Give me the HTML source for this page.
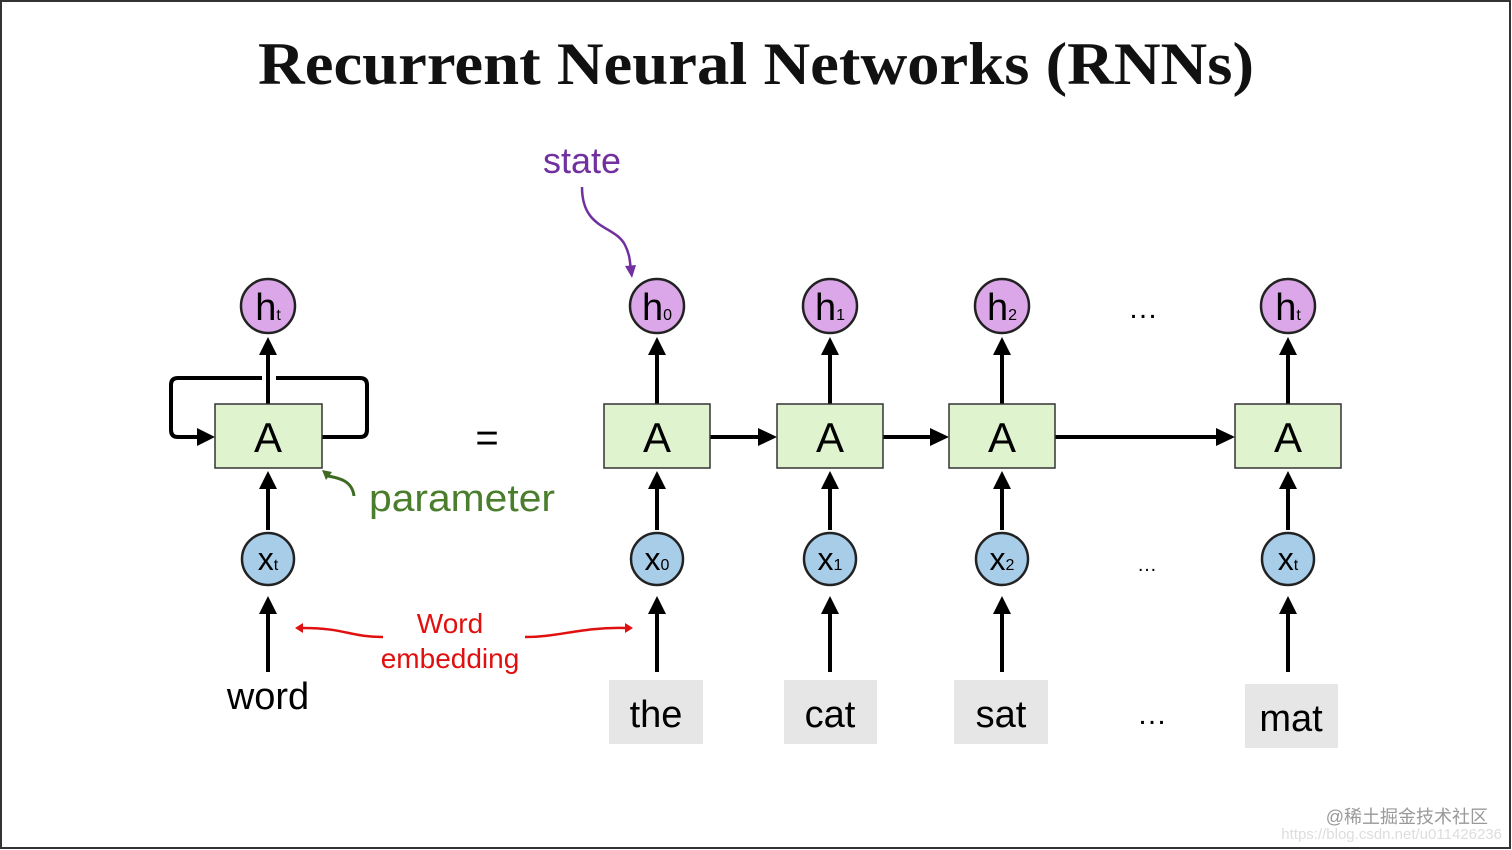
<!DOCTYPE html>
<html><head><meta charset="utf-8"><style>
html,body{margin:0;padding:0;background:#fff}
svg{display:block}
</style></head><body>
<svg width="1512" height="850" viewBox="0 0 1512 850" xmlns="http://www.w3.org/2000/svg" font-family="Liberation Sans, sans-serif">
<rect x="1" y="1" width="1509" height="847" fill="#fff" stroke="#333" stroke-width="2"/>
<text x="258" y="84" textLength="996" lengthAdjust="spacingAndGlyphs" font-family="Liberation Serif, serif" font-weight="bold" font-size="60" fill="#111">Recurrent Neural Networks (RNNs)</text>

<text x="582" y="173" text-anchor="middle" font-size="36" fill="#7030a0">state</text>
<path d="M582,187 C582,230 615,225 625,245 C630,255 630,262 631,272" fill="none" stroke="#7030a0" stroke-width="2.5"/>
<path d="M625,266 L632,278 L636,265 z" fill="#7030a0"/>

<g stroke="#000" stroke-width="4" fill="none">
<line x1="268" y1="404" x2="268" y2="354"/>
<line x1="268" y1="530" x2="268" y2="488"/>
<line x1="268" y1="672" x2="268" y2="614"/>
<path d="M262,378 H178 Q171,378 171,385 V430 Q171,437 178,437 H198"/>
<path d="M322,437 H360 Q367,437 367,430 V385 Q367,378 360,378 H276"/>
</g>
<path d="M197,428 L215,437 L197,446 z"/>
<path d="M259,355 L268,337 L277,355 z"/>
<path d="M259,489 L268,471 L277,489 z"/>
<path d="M259,614 L268,596 L277,614 z"/>
<rect x="215" y="404" width="107" height="64" fill="#dff3cf" stroke="#333" stroke-width="1.5"/>
<text x="268" y="452" text-anchor="middle" font-size="42">A</text>
<circle cx="268" cy="306" r="27" fill="#dba7e8" stroke="#222" stroke-width="2.5"/>
<text x="268" y="320" text-anchor="middle" font-size="38">h<tspan font-size="16">t</tspan></text>
<circle cx="268" cy="559" r="26" fill="#a8cde9" stroke="#222" stroke-width="2.5"/>
<text x="268" y="570" text-anchor="middle" font-size="32">x<tspan font-size="16">t</tspan></text>
<text x="268" y="709" text-anchor="middle" font-size="38">word</text>

<path d="M354,496 C352,480 338,478 328,476" fill="none" stroke="#3d6b22" stroke-width="3"/>
<path d="M322,470 L332,472 L326,480 z" fill="#3d6b22"/>
<text x="369" y="511" font-size="38" textLength="186" lengthAdjust="spacingAndGlyphs" fill="#4a7d2c">parameter</text>
<text x="487" y="451" text-anchor="middle" font-size="40">=</text>

<text x="450" y="633" text-anchor="middle" font-size="28" fill="#e01010">Word</text>
<text x="450" y="668" text-anchor="middle" font-size="28" fill="#e01010">embedding</text>
<path d="M383,637 C350,637 345,628 303,628" fill="none" stroke="#e01010" stroke-width="2.5"/>
<path d="M303,623 L295,628 L303,633 z" fill="#e01010"/>
<path d="M525,637 C560,637 580,627 625,628" fill="none" stroke="#e01010" stroke-width="2.5"/>
<path d="M625,623 L633,628 L625,633 z" fill="#e01010"/>

<g stroke="#000" stroke-width="4">
<line x1="710" y1="437" x2="760" y2="437"/>
<line x1="883" y1="437" x2="932" y2="437"/>
<line x1="1055" y1="437" x2="1218" y2="437"/>
</g>
<path d="M758,428 L777,437 L758,446 z"/>
<path d="M930,428 L949,437 L930,446 z"/>
<path d="M1216,428 L1235,437 L1216,446 z"/>

<g>
<g stroke="#000" stroke-width="4">
<line x1="657" y1="404" x2="657" y2="354"/><line x1="657" y1="530" x2="657" y2="488"/><line x1="657" y1="672" x2="657" y2="614"/>
<line x1="830" y1="404" x2="830" y2="354"/><line x1="830" y1="530" x2="830" y2="488"/><line x1="830" y1="672" x2="830" y2="614"/>
<line x1="1002" y1="404" x2="1002" y2="354"/><line x1="1002" y1="530" x2="1002" y2="488"/><line x1="1002" y1="672" x2="1002" y2="614"/>
<line x1="1288" y1="404" x2="1288" y2="354"/><line x1="1288" y1="530" x2="1288" y2="488"/><line x1="1288" y1="672" x2="1288" y2="614"/>
</g>
<path d="M648,355 L657,337 L666,355 z M648,489 L657,471 L666,489 z M648,614 L657,596 L666,614 z"/>
<path d="M821,355 L830,337 L839,355 z M821,489 L830,471 L839,489 z M821,614 L830,596 L839,614 z"/>
<path d="M993,355 L1002,337 L1011,355 z M993,489 L1002,471 L1011,489 z M993,614 L1002,596 L1011,614 z"/>
<path d="M1279,355 L1288,337 L1297,355 z M1279,489 L1288,471 L1297,489 z M1279,614 L1288,596 L1297,614 z"/>

<g fill="#dff3cf" stroke="#333" stroke-width="1.5">
<rect x="604" y="404" width="106" height="64"/><rect x="777" y="404" width="106" height="64"/>
<rect x="949" y="404" width="106" height="64"/><rect x="1235" y="404" width="106" height="64"/>
</g>
<g font-size="42" text-anchor="middle">
<text x="657" y="452">A</text><text x="830" y="452">A</text><text x="1002" y="452">A</text><text x="1288" y="452">A</text>
</g>
<g fill="#dba7e8" stroke="#222" stroke-width="2.5">
<circle cx="657" cy="306" r="27"/><circle cx="830" cy="306" r="27"/><circle cx="1002" cy="306" r="27"/><circle cx="1288" cy="306" r="27"/>
</g>
<g font-size="38" text-anchor="middle">
<text x="657" y="320">h<tspan font-size="16">0</tspan></text>
<text x="830" y="320">h<tspan font-size="16">1</tspan></text>
<text x="1002" y="320">h<tspan font-size="16">2</tspan></text>
<text x="1288" y="320">h<tspan font-size="16">t</tspan></text>
</g>
<g fill="#a8cde9" stroke="#222" stroke-width="2.5">
<circle cx="657" cy="559" r="26"/><circle cx="830" cy="559" r="26"/><circle cx="1002" cy="559" r="26"/><circle cx="1288" cy="559" r="26"/>
</g>
<g font-size="32" text-anchor="middle">
<text x="657" y="570">x<tspan font-size="16">0</tspan></text>
<text x="830" y="570">x<tspan font-size="16">1</tspan></text>
<text x="1002" y="570">x<tspan font-size="16">2</tspan></text>
<text x="1288" y="570">x<tspan font-size="16">t</tspan></text>
</g>
<g fill="#e6e6e6">
<rect x="609" y="680" width="94" height="64"/><rect x="784" y="680" width="93" height="64"/>
<rect x="954" y="680" width="94" height="64"/><rect x="1245" y="684" width="93" height="64"/>
</g>
<g font-size="38" text-anchor="middle">
<text x="656" y="727">the</text><text x="830" y="727">cat</text><text x="1001" y="727">sat</text><text x="1291" y="731">mat</text>
</g>
<text x="1143" y="318" text-anchor="middle" font-size="30">…</text>
<text x="1147" y="571" text-anchor="middle" font-size="20">…</text>
<text x="1152" y="724" text-anchor="middle" font-size="30">…</text>
</g>

<text x="1488" y="823" text-anchor="end" font-family="Liberation Sans, Noto Sans CJK SC, sans-serif" font-size="18" fill="#999">@稀土掘金技术社区</text>
<text x="1502" y="839" text-anchor="end" font-size="15" fill="#ddd">https://blog.csdn.net/u011426236</text>
</svg>
</body></html>
